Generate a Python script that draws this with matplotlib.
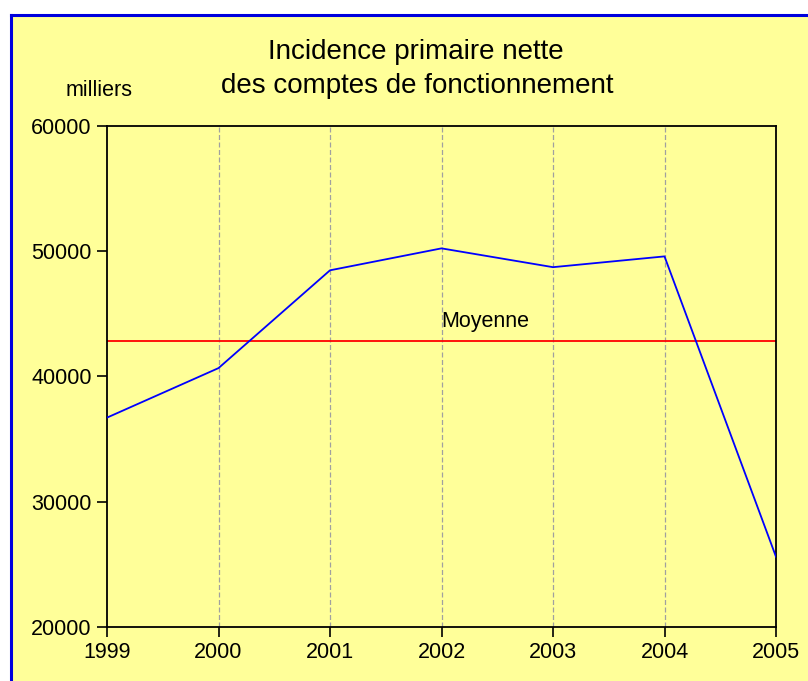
import numpy as np
import matplotlib.pyplot as plt
from matplotlib.patches import Rectangle
from matplotlib.lines import Line2D

plt.rcParams['font.family'] = ['Liberation Sans', 'DejaVu Sans']

years = [1999, 2000, 2001, 2002, 2003, 2004, 2005]
values = [36700, 40650, 48450, 50200, 48700, 49560, 25600]
yticks = [20000, 30000, 40000, 50000, 60000]

yellow = '#FFFF99'
W, H = 808, 681

fig = plt.figure(figsize=(W / 100, H / 100), dpi=100)
fig.patch.set_facecolor('white')

# yellow panel with blue frame on left and top
fig.patches.append(Rectangle((11 / W, 0), 1, 1 - 15 / H, transform=fig.transFigure,
                             facecolor=yellow, edgecolor='none', zorder=-2))
fig.lines.append(Line2D([11 / W, 11 / W], [0, 1 - 15 / H], transform=fig.transFigure,
                        color='#0000DD', lw=2.2, zorder=-1))
fig.lines.append(Line2D([11 / W, 1], [1 - 15 / H, 1 - 15 / H], transform=fig.transFigure,
                        color='#0000DD', lw=2.2, zorder=-1))

ax = fig.add_axes([107 / W, 54 / H, (776 - 107) / W, (627 - 125.5) / H])
ax.set_facecolor(yellow)
ax.set_zorder(1)

mean = np.mean(values)
ax.plot(years, values, color='blue', lw=1.3, zorder=3)
ax.axhline(mean, color='red', lw=1.3, zorder=2)
ax.text(2002, mean + 700, 'Moyenne', fontsize=15.5, ha='left', va='bottom')

for y in years[1:-1]:
    ax.axvline(y, color='#A0A0A0', lw=0.9, ls=(0, (4, 2)), zorder=1)

ax.set_xlim(1999, 2005)
ax.set_ylim(20000, 60000)
ax.set_xticks(years)
ax.set_xticklabels([str(y) for y in years])
ax.set_yticks(yticks)
ax.set_yticklabels([str(v) for v in yticks])
ax.tick_params(direction='out', length=7.5, width=1.2, labelsize=15.5)
ax.tick_params(axis='y', pad=3.5)
ax.tick_params(axis='x', pad=3)

for s in ax.spines.values():
    s.set_linewidth(1.3)
    s.set_color('black')

fig.text(415.5 / W, 1 - 59 / H, 'Incidence primaire nette', fontsize=20, ha='center', va='baseline')
fig.text(417 / W, 1 - 93 / H, 'des comptes de fonctionnement', fontsize=20, ha='center', va='baseline')
fig.text(99 / W, 1 - 96 / H, 'milliers', fontsize=15.5, ha='center', va='baseline')

fig.savefig('out.png', dpi=100, facecolor=fig.get_facecolor())
